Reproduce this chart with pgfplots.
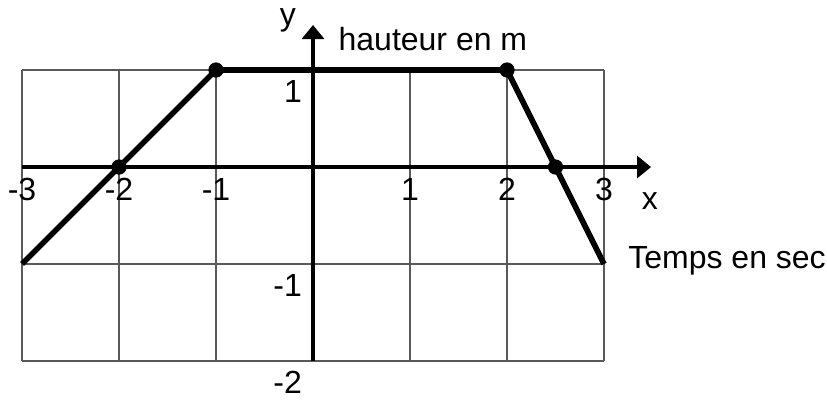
\documentclass[border=0pt]{standalone}
\usepackage{fontspec}
\setmainfont{Liberation Sans}
\usepackage{pgfplots}
\pgfplotsset{compat=1.18}
\usetikzlibrary{arrows.meta}
\begin{document}
\fontsize{16}{19}\selectfont
\begin{tikzpicture}
\begin{axis}[
  x=48.5pt, y=48.5pt,
  xmin=-3, xmax=3, ymin=-2, ymax=1,
  axis line style={draw=none},
  xtick={-3,-2,-1,0,1,2,3}, ytick={-2,-1,0,1},
  major tick length=0pt,
  xticklabels={}, yticklabels={},
  grid=major,
  grid style={draw=black!65, line width=0.8pt},
  clip=false,
]
\draw[line width=1.6pt, -{Triangle[length=7pt,width=11pt]}] (axis cs:-3,0) -- (axis cs:3.485,0);
\draw[line width=1.6pt, -{Triangle[length=7pt,width=11pt]}] (axis cs:0,-2) -- (axis cs:0,1.464);
\addplot[black, line width=2.8pt] coordinates {(-3,-1) (-2,0) (-1,1) (2,1) (2.5,0) (3,-1)};
\addplot[only marks, mark=*, mark size=3.6pt, black] coordinates {(-2,0) (-1,1) (2,1) (2.5,0)};
% x tick labels
\foreach \v in {-3,-2,-1,1,2,3} {
  \edef\tmp{\noexpand\node[anchor=base, inner sep=0pt] at (axis cs:\v,-0.35) {\v};}
  \tmp
}
% y tick labels
\node[anchor=base east, inner sep=0pt] at (axis cs:-0.11,0.66) {1};
\node[anchor=base east, inner sep=0pt] at (axis cs:-0.11,-1.34) {-1};
\node[anchor=base east, inner sep=0pt] at (axis cs:-0.11,-2.33) {-2};
% labels
\node[anchor=base, inner sep=0pt] at (axis cs:-0.26,1.46) {y};
\node[anchor=base west, inner sep=0pt] at (axis cs:0.26,1.206) {hauteur en m};
\node[anchor=base, inner sep=0pt] at (axis cs:3.474,-0.443) {x};
\node[anchor=base west, inner sep=0pt] at (axis cs:3.247,-1.05) {Temps en sec};
\coordinate (bl) at (axis cs:-3.227,-2.392);
\coordinate (tr) at (axis cs:5.299,1.722);
\end{axis}
\pgfresetboundingbox
\useasboundingbox (bl) rectangle (tr);
\end{tikzpicture}
\end{document}
